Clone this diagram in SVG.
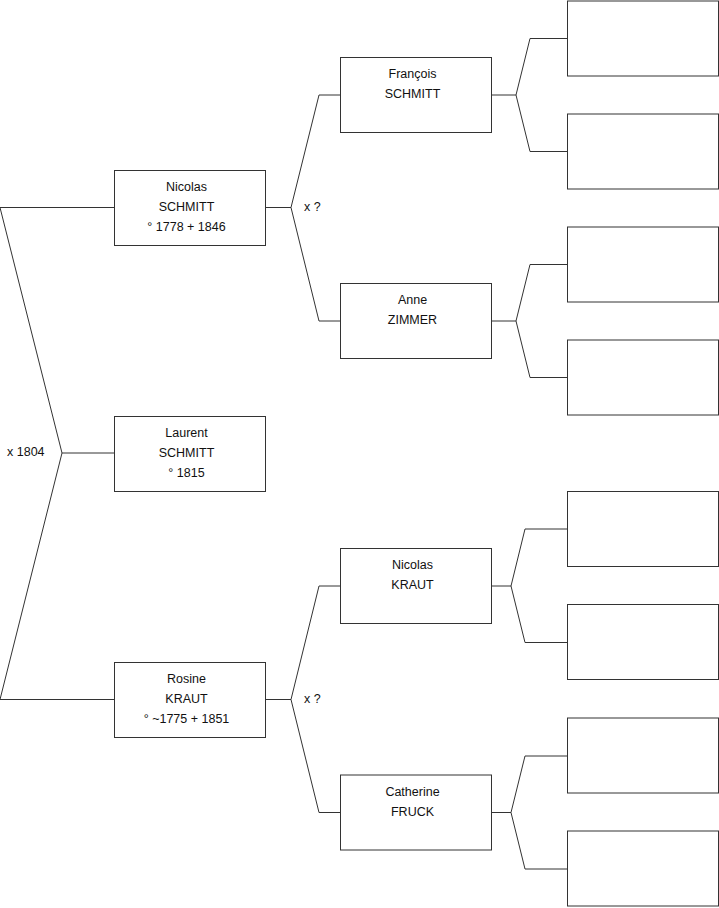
<svg xmlns="http://www.w3.org/2000/svg" width="719" height="908" viewBox="0 0 719 908">
<style>
.box{fill:#fff;stroke:#333;stroke-width:1}
.c{fill:none;stroke:#333;stroke-width:1}
text{font-family:"Liberation Sans",Arial,sans-serif;font-size:12.5px;fill:#111}
.m{text-anchor:middle}
</style>
<rect width="719" height="908" fill="#fff"/>
<g id="connectors">
<path class="c" d="M0,207.5 H114.5 M0,207.5 L62,453 L0,699.5 M0,699.5 H114.5 M62,453 H114.5"/>
<path class="c" d="M265.5,207.5 H291 M340.5,95 H319 L291,207.5 L319,321 H340.5"/>
<path class="c" d="M265.5,699.5 H291 M340.5,586 H319 L291,699.5 L319,812.5 H340.5"/>
<path class="c" d="M491.5,95 H516 M567.5,38.5 H530 L516,95 L530,151.5 H567.5"/>
<path class="c" d="M491.5,321 H516 M567.5,264.5 H530 L516,321 L530,377.5 H567.5"/>
<path class="c" d="M491.5,586 H511 M567.5,529 H525 L511,586 L525,642.5 H567.5"/>
<path class="c" d="M491.5,812.5 H511 M567.5,756 H525 L511,812.5 L525,869 H567.5"/>
<text x="7" y="456">x 1804</text>
<text x="304" y="211">x ?</text>
<text x="304" y="703">x ?</text>
</g>
<g id="nicolas-schmitt">
<rect class="box" x="114.5" y="170.5" width="151" height="75"/>
<text class="m" x="186.5" y="191">Nicolas</text>
<text class="m" x="186.5" y="211">SCHMITT</text>
<text class="m" x="186.5" y="231">° 1778 + 1846</text>
</g>
<g id="laurent-schmitt">
<rect class="box" x="114.5" y="416.5" width="151" height="75"/>
<text class="m" x="186.5" y="437">Laurent</text>
<text class="m" x="186.5" y="457">SCHMITT</text>
<text class="m" x="186.5" y="477">° 1815</text>
</g>
<g id="rosine-kraut">
<rect class="box" x="114.5" y="662.5" width="151" height="75"/>
<text class="m" x="186.5" y="683">Rosine</text>
<text class="m" x="186.5" y="703">KRAUT</text>
<text class="m" x="186.5" y="723">° ~1775 + 1851</text>
</g>
<g id="francois-schmitt">
<rect class="box" x="340.5" y="57.5" width="151" height="75"/>
<text class="m" x="412.5" y="78">François</text>
<text class="m" x="412.5" y="98">SCHMITT</text>
</g>
<g id="anne-zimmer">
<rect class="box" x="340.5" y="283.5" width="151" height="75"/>
<text class="m" x="412.5" y="304">Anne</text>
<text class="m" x="412.5" y="324">ZIMMER</text>
</g>
<g id="nicolas-kraut">
<rect class="box" x="340.5" y="548.5" width="151" height="75"/>
<text class="m" x="412.5" y="569">Nicolas</text>
<text class="m" x="412.5" y="589">KRAUT</text>
</g>
<g id="catherine-fruck">
<rect class="box" x="340.5" y="775" width="151" height="75"/>
<text class="m" x="412.5" y="796">Catherine</text>
<text class="m" x="412.5" y="816">FRUCK</text>
</g>
<g id="g3-1"><rect class="box" x="567.5" y="1" width="151" height="75"/></g>
<g id="g3-2"><rect class="box" x="567.5" y="114" width="151" height="75"/></g>
<g id="g3-3"><rect class="box" x="567.5" y="227" width="151" height="75"/></g>
<g id="g3-4"><rect class="box" x="567.5" y="340" width="151" height="75"/></g>
<g id="g3-5"><rect class="box" x="567.5" y="491.5" width="151" height="75"/></g>
<g id="g3-6"><rect class="box" x="567.5" y="604.5" width="151" height="75"/></g>
<g id="g3-7"><rect class="box" x="567.5" y="718" width="151" height="75"/></g>
<g id="g3-8"><rect class="box" x="567.5" y="831" width="151" height="75"/></g>
</svg>
